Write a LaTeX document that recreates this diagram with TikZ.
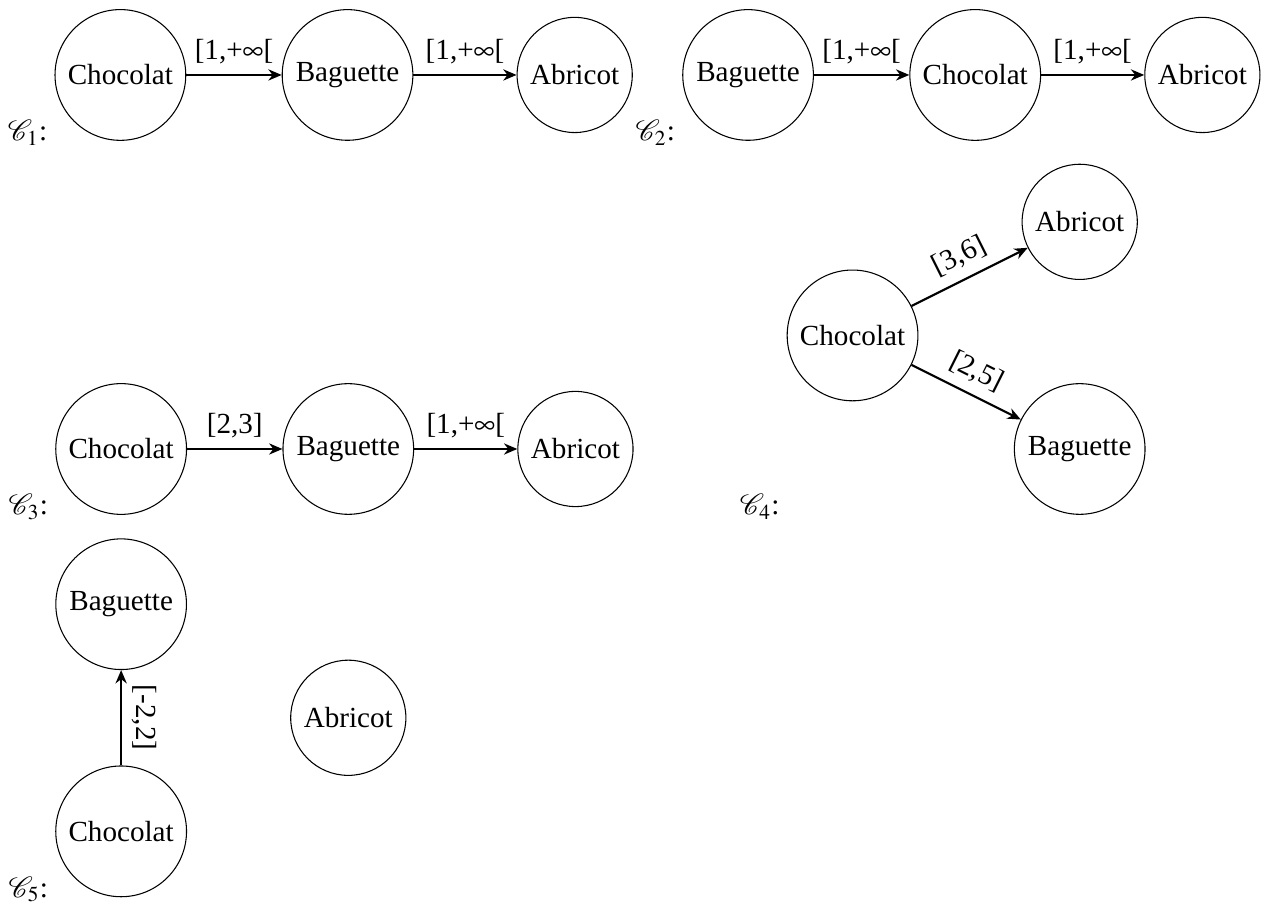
\documentclass[tikz,border=0pt,11pt]{standalone}
\usepackage{amsmath, amssymb}
\usepackage{mathptmx}
\usepackage{fontspec}
\setmainfont{Liberation Serif}
\usepackage{tikz}
\usetikzlibrary{positioning, arrows.meta}

\begin{document}
\begin{tikzpicture}[node distance=3cm, on grid,
    aliment/.style={circle, draw, thin},
    lien/.style={->, thick, >={Stealth[length=5pt, width=4.2pt, inset=1.6pt]}},
    nom/.style={anchor=base east, inner sep=2.5pt}]
        \useasboundingbox (0,0) rectangle (16.76,-11.955);
        % C1
        \node[aliment] (11) at (1.59,-0.99) {Chocolat};
        \node[aliment, right=of 11] (12) {Baguette};
        \node[aliment, right=of 12] (13) {Abricot};
        \draw[lien] (11) -- node[above] {[1,+$\infty$[} (12);
        \draw[lien] (12) -- node[above] {[1,+$\infty$[} (13);
        \node[nom] (n1) at (11.west |- 11.south) {$\mathcal{C}_1$:};
        % C2
        \node[aliment] (21) at (9.88,-0.99) {Baguette};
        \node[aliment, right=of 21] (22) {Chocolat};
        \node[aliment, right=of 22] (23) {Abricot};
        \draw[lien] (21) -- node[above] {[1,+$\infty$[} (22);
        \draw[lien] (22) -- node[above] {[1,+$\infty$[} (23);
        \node[nom] (n2) at (21.west |- 21.south) {$\mathcal{C}_2$:};
        % C3
        \node[aliment] (31) at (1.60,-5.93) {Chocolat};
        \node[aliment, right=of 31] (32) {Baguette};
        \node[aliment, right=of 32] (33) {Abricot};
        \draw[lien] (31) -- node[above] {[2,3]} (32);
        \draw[lien] (32) -- node[above] {[1,+$\infty$[} (33);
        \node[nom] (n3) at (31.west |- 31.south) {$\mathcal{C}_3$:};
        % C4
        \node[aliment] (41) at (11.26,-4.43) {Chocolat};
        \node[aliment, above right=1.5cm and 3cm of 41] (42) {Abricot};
        \node[aliment, below right=1.5cm and 3cm of 41] (43) {Baguette};
        \draw[lien] (41) -- node[above, sloped] {[3,6]} (42);
        \draw[lien] (41) -- node[above, sloped] {[2,5]} (43);
        \node[nom] (n4) at (41.west |- 43.south) {$\mathcal{C}_4$:};
        % C5
        \node[aliment] (51) at (1.60,-10.98) {Chocolat};
        \node[aliment, above=of 51] (52) {Baguette};
        \node[aliment, above right=1.5cm and 3cm of 51] (53) {Abricot};
        \draw[lien] (51) -- node[rotate=-90, anchor=south] {[-2,2]} (52);
        \node[nom] (n5) at (51.west |- 51.south) {$\mathcal{C}_5$:};
      \end{tikzpicture}
\end{document}
